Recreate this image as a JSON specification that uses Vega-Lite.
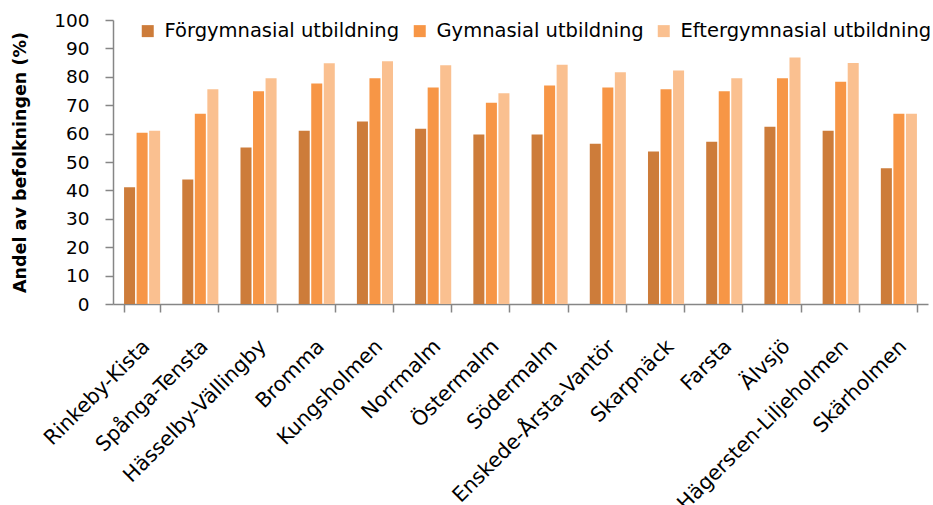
{
  "$schema": "https://vega.github.io/schema/vega-lite/v6.json",
  "width": 815,
  "height": 284,
  "autosize": {"type": "none"},
  "padding": {"left": 113, "top": 20, "right": 5, "bottom": 201},
  "background": "white",
  "config": {
    "view": {"stroke": null},
    "font": "DejaVu Sans",
    "axis": {"grid": false, "domainColor": "#868686", "tickColor": "#868686", "domainWidth": 1.5, "tickWidth": 1.5, "labelColor": "#000000", "titleColor": "#000000"}
  },
  "data": {"values": [
    {"d": "Rinkeby-Kista", "u": "Förgymnasial utbildning", "v": 41.1},
    {"d": "Rinkeby-Kista", "u": "Gymnasial utbildning", "v": 60.3},
    {"d": "Rinkeby-Kista", "u": "Eftergymnasial utbildning", "v": 61.0},
    {"d": "Spånga-Tensta", "u": "Förgymnasial utbildning", "v": 43.8},
    {"d": "Spånga-Tensta", "u": "Gymnasial utbildning", "v": 67.0},
    {"d": "Spånga-Tensta", "u": "Eftergymnasial utbildning", "v": 75.6},
    {"d": "Hässelby-Vällingby", "u": "Förgymnasial utbildning", "v": 55.1},
    {"d": "Hässelby-Vällingby", "u": "Gymnasial utbildning", "v": 74.9},
    {"d": "Hässelby-Vällingby", "u": "Eftergymnasial utbildning", "v": 79.5},
    {"d": "Bromma", "u": "Förgymnasial utbildning", "v": 61.0},
    {"d": "Bromma", "u": "Gymnasial utbildning", "v": 77.6},
    {"d": "Bromma", "u": "Eftergymnasial utbildning", "v": 84.8},
    {"d": "Kungsholmen", "u": "Förgymnasial utbildning", "v": 64.3},
    {"d": "Kungsholmen", "u": "Gymnasial utbildning", "v": 79.5},
    {"d": "Kungsholmen", "u": "Eftergymnasial utbildning", "v": 85.5},
    {"d": "Norrmalm", "u": "Förgymnasial utbildning", "v": 61.7},
    {"d": "Norrmalm", "u": "Gymnasial utbildning", "v": 76.2},
    {"d": "Norrmalm", "u": "Eftergymnasial utbildning", "v": 84.1},
    {"d": "Östermalm", "u": "Förgymnasial utbildning", "v": 59.7},
    {"d": "Östermalm", "u": "Gymnasial utbildning", "v": 70.9},
    {"d": "Östermalm", "u": "Eftergymnasial utbildning", "v": 74.2},
    {"d": "Södermalm", "u": "Förgymnasial utbildning", "v": 59.7},
    {"d": "Södermalm", "u": "Gymnasial utbildning", "v": 76.9},
    {"d": "Södermalm", "u": "Eftergymnasial utbildning", "v": 84.2},
    {"d": "Enskede-Årsta-Vantör", "u": "Förgymnasial utbildning", "v": 56.4},
    {"d": "Enskede-Årsta-Vantör", "u": "Gymnasial utbildning", "v": 76.2},
    {"d": "Enskede-Årsta-Vantör", "u": "Eftergymnasial utbildning", "v": 81.6},
    {"d": "Skarpnäck", "u": "Förgymnasial utbildning", "v": 53.7},
    {"d": "Skarpnäck", "u": "Gymnasial utbildning", "v": 75.6},
    {"d": "Skarpnäck", "u": "Eftergymnasial utbildning", "v": 82.2},
    {"d": "Farsta", "u": "Förgymnasial utbildning", "v": 57.1},
    {"d": "Farsta", "u": "Gymnasial utbildning", "v": 74.9},
    {"d": "Farsta", "u": "Eftergymnasial utbildning", "v": 79.5},
    {"d": "Älvsjö", "u": "Förgymnasial utbildning", "v": 62.4},
    {"d": "Älvsjö", "u": "Gymnasial utbildning", "v": 79.5},
    {"d": "Älvsjö", "u": "Eftergymnasial utbildning", "v": 86.8},
    {"d": "Hägersten-Liljeholmen", "u": "Förgymnasial utbildning", "v": 61.0},
    {"d": "Hägersten-Liljeholmen", "u": "Gymnasial utbildning", "v": 78.3},
    {"d": "Hägersten-Liljeholmen", "u": "Eftergymnasial utbildning", "v": 84.9},
    {"d": "Skärholmen", "u": "Förgymnasial utbildning", "v": 47.8},
    {"d": "Skärholmen", "u": "Gymnasial utbildning", "v": 67.0},
    {"d": "Skärholmen", "u": "Eftergymnasial utbildning", "v": 67.0}
  ]},
  "mark": {"type": "bar"},
  "encoding": {
    "x": {
      "field": "d", "type": "nominal", "sort": null,
      "scale": {"paddingInner": 0.38, "paddingOuter": 0.19},
      "axis": {"title": null, "labelAngle": -45, "labelFontSize": 20.5, "labelPadding": 31, "labelOffset": 4, "tickBand": "extent", "tickSize": 8, "labelAlign": "right", "labelBaseline": "middle", "labelOverlap": false, "labelLimit": 400}
    },
    "xOffset": {"field": "u", "sort": ["Förgymnasial utbildning", "Gymnasial utbildning", "Eftergymnasial utbildning"], "scale": {"paddingInner": 0.12, "paddingOuter": 0}},
    "y": {
      "field": "v", "type": "quantitative",
      "scale": {"domain": [0, 100]},
      "axis": {"title": "Andel av befolkningen (%)", "titleFontWeight": "bold", "titleFontSize": 17.5, "titlePadding": 24, "labelFontSize": 18.5, "values": [0,10,20,30,40,50,60,70,80,90,100], "labelOverlap": false, "tickSize": 8, "labelPadding": 16}
    },
    "color": {
      "field": "u", "type": "nominal",
      "sort": ["Förgymnasial utbildning", "Gymnasial utbildning", "Eftergymnasial utbildning"],
      "scale": {"domain": ["Förgymnasial utbildning", "Gymnasial utbildning", "Eftergymnasial utbildning"], "range": ["#CD7C3A", "#F79646", "#FAC090"]},
      "legend": {"title": null, "orient": "none", "legendX": 25, "legendY": 1, "direction": "horizontal", "symbolType": "square", "symbolSize": 144, "symbolStrokeWidth": 0, "labelFontSize": 19.5, "labelOffset": 7, "columnPadding": 10, "labelLimit": 400}
    }
  }
}
